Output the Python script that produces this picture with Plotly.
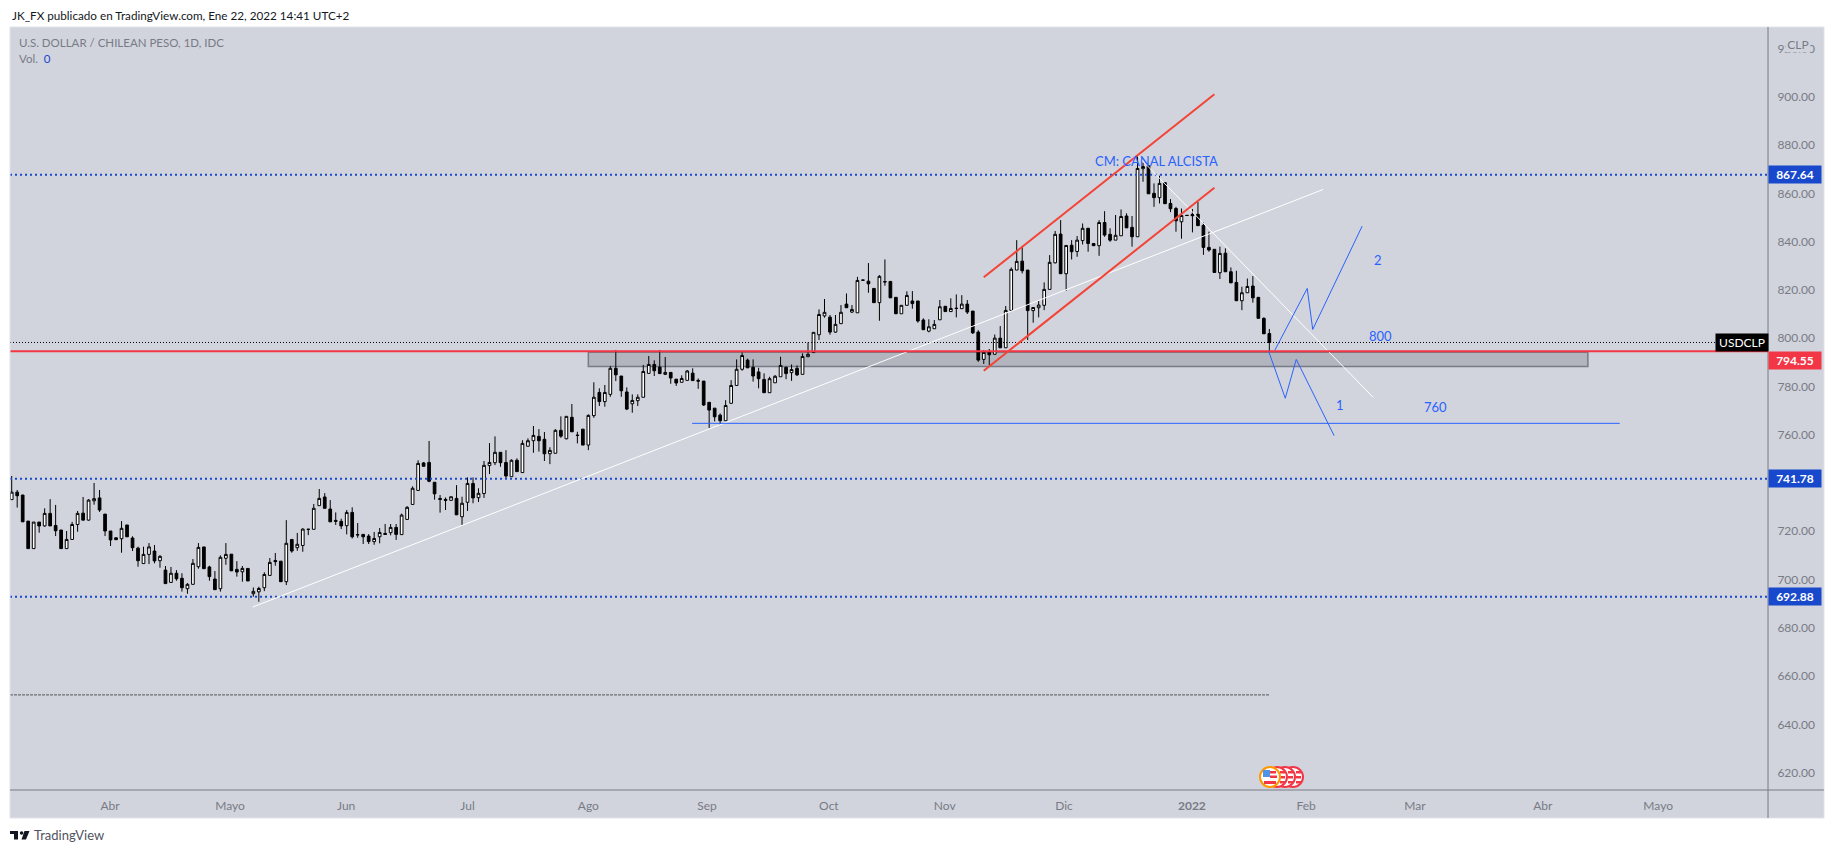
import plotly.graph_objects as go

# daily USD/CLP bars
opens = [
    733.1, 736.2, 735.0, 724.2, 712.8, 723.8, 722.2, 727.4, 722.4, 720.5,
    712.8, 716.6, 722.8, 727.5, 724.6, 732.6, 733.8, 727.1, 720.1, 717.3,
    716.9, 722.6, 717.2, 713.0, 706.6, 710.4, 711.8, 707.8, 703.9, 698.8,
    702.6, 700.5, 696.2, 698.0, 705.3, 713.5, 705.2, 700.2, 696.2, 708.8,
    710.5, 704.2, 703.2, 704.6, 694.1, 694.9, 696.6, 701.7, 707.9, 707.6,
    699.1, 716.6, 713.2, 714.1, 720.8, 720.8, 730.6, 734.2, 729.2, 724.5,
    724.1, 722.3, 727.8, 718.6, 718.7, 718.0, 715.7, 717.7, 719.1, 719.4,
    721.6, 718.6, 724.9, 731.1, 736.9, 748.3, 748.5, 740.3, 733.6, 733.2,
    732.8, 733.6, 726.0, 732.0, 739.8, 733.9, 735.6, 747.2, 748.4, 752.7,
    748.5, 742.6, 749.4, 744.3, 755.2, 757.5, 759.3, 758.1, 752.1, 752.3,
    761.8, 758.3, 767.2, 759.8, 762.3, 755.7, 767.9, 777.5, 773.7, 776.7,
    787.5, 784.3, 777.7, 772.8, 774.1, 775.5, 785.4, 789.1, 788.0, 785.0,
    785.8, 783.0, 781.7, 782.5, 785.5, 782.5, 782.2, 773.4, 771.0, 768.1,
    765.8, 773.0, 780.4, 787.1, 790.9, 787.9, 786.0, 782.9, 777.4, 781.5,
    784.0, 787.9, 785.7, 787.5, 785.0, 792.3, 794.0, 801.4, 809.2, 808.7,
    802.5, 806.0, 814.1, 810.8, 810.5, 824.1, 823.6, 820.6, 814.7, 823.4,
    823.5, 816.9, 810.1, 813.6, 815.4, 815.4, 807.5, 802.9, 803.9, 807.6,
    813.2, 811.0, 812.4, 812.2, 814.1, 811.2, 802.5, 791.2, 794.2, 793.3,
    800.0, 796.0, 811.5, 828.2, 831.9, 828.2, 811.4, 812.6, 813.6, 820.2,
    831.2, 843.1, 826.7, 838.5, 835.9, 840.4, 845.5, 839.2, 838.3, 847.9,
    843.0, 840.6, 842.4, 850.6, 845.9, 842.0, 870.2, 871.4, 860.0, 858.2,
    864.4, 855.8, 853.7, 848.2, 850.9, 851.3, 851.3, 846.7, 837.6, 836.8,
    827.1, 835.2, 827.5, 823.1, 815.5, 818.8, 821.6, 816.9, 808.2, 801.9,
]
highs = [
    742.9, 737.1, 735.0, 724.2, 723.8, 723.8, 729.5, 733.3, 730.9, 720.5,
    720.1, 723.9, 728.4, 734.2, 733.3, 740.0, 737.1, 727.1, 720.1, 717.3,
    724.2, 722.6, 717.9, 713.6, 713.6, 715.1, 714.3, 710.1, 705.6, 705.2,
    703.9, 702.6, 698.5, 708.5, 715.1, 713.5, 705.7, 703.5, 710.0, 715.1,
    710.5, 707.6, 705.6, 704.6, 696.7, 697.0, 703.0, 708.9, 711.0, 707.6,
    724.6, 716.6, 719.3, 721.2, 720.8, 731.3, 737.5, 735.8, 732.9, 727.8,
    725.2, 728.8, 729.9, 723.4, 718.7, 718.8, 719.7, 721.3, 723.0, 723.0,
    723.0, 727.3, 730.4, 738.6, 749.4, 748.7, 757.4, 740.3, 735.0, 734.0,
    734.3, 739.1, 734.3, 742.3, 742.3, 737.8, 749.1, 756.5, 759.3, 752.7,
    753.6, 749.8, 750.2, 757.7, 758.5, 763.6, 762.3, 761.1, 754.8, 762.3,
    767.6, 767.6, 772.7, 761.2, 762.3, 768.4, 781.7, 779.2, 780.6, 788.4,
    795.1, 784.3, 779.6, 776.7, 776.7, 788.9, 792.6, 790.8, 795.1, 792.2,
    785.8, 783.0, 784.6, 786.8, 787.5, 783.3, 782.2, 773.4, 771.0, 768.8,
    774.3, 782.6, 791.2, 794.1, 791.5, 791.2, 787.7, 785.4, 784.0, 784.7,
    792.3, 788.2, 789.1, 788.7, 793.7, 798.2, 802.4, 811.9, 816.2, 809.6,
    809.6, 813.7, 818.5, 813.7, 825.4, 824.1, 831.1, 820.6, 826.1, 832.6,
    823.5, 816.9, 813.6, 819.4, 819.5, 815.4, 808.2, 807.8, 807.5, 815.8,
    813.2, 816.5, 818.1, 817.8, 815.8, 811.2, 803.3, 795.1, 795.5, 801.5,
    805.0, 813.3, 829.3, 840.6, 838.2, 828.2, 812.7, 815.4, 823.1, 834.4,
    844.4, 848.9, 838.4, 840.6, 842.3, 847.5, 845.7, 839.2, 848.9, 852.6,
    845.5, 851.0, 853.3, 851.7, 850.6, 875.4, 872.7, 871.4, 864.1, 867.3,
    864.4, 857.6, 854.4, 853.7, 850.9, 853.5, 856.5, 847.9, 844.1, 836.8,
    837.9, 837.2, 829.3, 827.9, 821.3, 824.7, 825.7, 816.9, 808.6, 803.8,
]
lows = [
    733.1, 729.8, 723.9, 712.8, 712.8, 719.4, 721.9, 722.2, 718.0, 712.8,
    712.8, 716.6, 719.8, 724.6, 724.4, 731.0, 728.0, 718.0, 713.9, 716.5,
    711.1, 717.7, 711.8, 705.3, 706.6, 706.4, 706.7, 704.9, 698.3, 698.8,
    699.5, 695.0, 694.1, 698.0, 704.5, 704.5, 699.5, 695.8, 695.0, 706.1,
    703.6, 701.2, 699.1, 699.4, 692.9, 690.8, 695.2, 701.7, 705.7, 699.1,
    697.7, 711.1, 711.9, 711.5, 718.4, 720.8, 730.6, 729.5, 723.9, 722.6,
    720.9, 718.7, 717.0, 717.3, 714.7, 714.7, 714.4, 715.0, 718.7, 718.3,
    716.4, 718.6, 724.9, 731.1, 736.9, 746.9, 740.3, 733.1, 727.7, 728.8,
    732.8, 726.8, 722.6, 728.4, 731.6, 732.1, 733.8, 743.7, 747.4, 746.7,
    742.0, 742.6, 744.7, 744.3, 755.2, 752.5, 753.0, 749.1, 747.8, 752.3,
    758.7, 758.1, 761.2, 756.4, 755.7, 753.6, 767.0, 771.9, 771.6, 775.7,
    782.2, 775.7, 770.2, 769.1, 771.9, 775.5, 785.4, 784.3, 785.3, 784.7,
    781.1, 780.2, 781.7, 782.5, 782.4, 779.0, 771.9, 762.8, 765.5, 764.0,
    765.8, 773.0, 780.4, 786.5, 787.7, 782.0, 779.2, 777.4, 777.4, 781.5,
    784.0, 783.0, 782.3, 784.3, 785.0, 792.3, 794.0, 799.2, 808.5, 801.4,
    802.2, 806.0, 812.6, 810.4, 810.5, 824.0, 818.8, 814.7, 807.2, 821.7,
    816.7, 810.1, 810.1, 813.6, 812.2, 806.4, 803.5, 802.4, 803.9, 807.6,
    811.0, 811.0, 808.6, 812.2, 810.0, 801.7, 790.2, 789.3, 788.8, 793.3,
    796.0, 796.0, 811.5, 828.2, 826.8, 799.2, 806.4, 808.6, 811.6, 820.2,
    831.0, 826.7, 819.6, 832.6, 833.7, 838.8, 835.8, 838.3, 834.1, 842.0,
    839.9, 840.6, 842.4, 845.7, 837.9, 842.0, 864.8, 859.8, 854.4, 855.8,
    855.7, 852.2, 844.1, 841.2, 850.8, 843.8, 846.6, 834.5, 835.8, 827.2,
    824.5, 827.5, 822.9, 815.5, 811.6, 818.8, 814.7, 808.2, 801.8, 794.6,
]
closes = [
    736.2, 734.7, 723.9, 712.8, 723.8, 722.2, 727.4, 722.2, 720.2, 712.8,
    716.6, 722.8, 727.4, 724.6, 732.9, 733.5, 728.8, 720.1, 716.4, 716.5,
    721.2, 717.7, 713.2, 707.8, 710.4, 713.5, 707.7, 709.6, 698.3, 702.6,
    700.3, 696.6, 698.0, 706.7, 713.3, 704.5, 701.2, 695.8, 709.2, 710.4,
    703.6, 703.1, 704.6, 699.4, 695.1, 696.3, 702.1, 707.1, 707.4, 699.1,
    715.0, 711.8, 714.6, 720.9, 720.8, 729.5, 733.6, 729.5, 723.9, 724.1,
    722.2, 727.8, 717.7, 718.5, 717.7, 715.7, 717.0, 719.5, 718.7, 721.6,
    718.7, 726.7, 729.9, 737.8, 748.1, 746.9, 740.7, 735.5, 733.2, 732.8,
    734.3, 726.8, 731.6, 739.8, 733.8, 735.7, 747.3, 748.5, 752.7, 748.4,
    742.9, 749.4, 744.7, 756.4, 757.5, 759.7, 757.5, 752.1, 753.5, 761.8,
    759.4, 767.6, 761.2, 759.7, 755.7, 768.0, 775.5, 773.7, 777.5, 787.5,
    784.8, 778.2, 770.6, 774.2, 775.5, 786.2, 789.1, 786.5, 785.3, 785.8,
    783.5, 781.4, 783.3, 786.4, 782.4, 782.2, 772.3, 770.2, 767.4, 765.8,
    772.1, 780.4, 787.1, 792.8, 787.7, 784.3, 783.2, 777.4, 783.2, 784.2,
    788.7, 785.3, 787.0, 784.8, 792.4, 793.3, 802.4, 809.8, 810.7, 802.5,
    805.7, 810.7, 812.6, 811.9, 823.9, 824.0, 822.5, 814.7, 825.6, 823.3,
    816.7, 810.1, 813.6, 817.7, 814.3, 807.1, 803.5, 804.7, 805.7, 813.0,
    811.0, 812.3, 812.3, 814.1, 810.8, 802.2, 790.9, 794.1, 793.1, 800.0,
    796.0, 811.5, 828.5, 831.8, 827.9, 811.4, 812.7, 813.7, 820.2, 831.4,
    843.0, 826.7, 838.4, 835.8, 840.6, 845.5, 839.2, 838.3, 847.9, 842.7,
    840.6, 842.6, 850.4, 845.7, 842.0, 870.3, 871.1, 859.8, 858.2, 864.1,
    855.7, 853.6, 848.6, 850.8, 850.8, 850.7, 846.6, 837.6, 836.5, 827.2,
    835.1, 827.5, 822.9, 815.5, 818.8, 821.4, 816.7, 808.2, 801.8, 798.2,
]
bars = list(range(len(closes)))

month_ticks = [17.9, 39.75, 60.9, 83, 105, 126.6, 148.8, 169.9, 191.6, 214.9, 235.7, 255.5, 278.8, 299.8]
month_labels = ["Abr", "Mayo", "Jun", "Jul", "Ago", "Sep", "Oct", "Nov", "Dic", "<b>2022</b>", "Feb", "Mar", "Abr", "Mayo"]
price_ticks = list(range(620, 940, 20))

# drawings on the chart, bar number / price
blue_levels = [867.64, 741.78, 692.88]
red_level = 794.55
last_close = 798.2
dashed_level = 652.2
support_x = [123.9, 292.8]
support_y = [764.7, 764.7]
zone_x = [105, 287]
zone_y = [788.2, 794.2]
trend_x = [43.9, 238.8]
trend_y = [688.6, 861.6]
falling_x = [204.9, 247.9]
falling_y = [875.8, 775.5]
channel_top_x = [177, 219]
channel_top_y = [825.2, 901.0]
channel_bottom_x = [177, 219]
channel_bottom_y = [786.5, 862.3]
wave_down_x = [228.9, 231.9, 233.9, 240.8]
wave_down_y = [794.4, 775.1, 791.2, 759.6]
wave_up_x = [230, 235.9, 236.9, 245.9]
wave_up_y = [795.0, 820.6, 803.6, 846.4]
note_text = ["CM: CANAL ALCISTA", "800", "2", "1", "760"]
note_x = [208.4, 249.3, 248.8, 241.9, 259.3]
note_y = [873.4, 800.9, 832.4, 772.3, 771.5]

PANE = "#d1d4dc"
GREY = "#787b86"
BLUE = "#1848cc"
RED = "#f23645"
DRAW_BLUE = "#2962ff"
FONT = "Lato"
y_range = [612.8, 928.9]
x_range = [-0.31, 319.8]


# page pixels to paper fractions, the plot area is 10-1768 x 27-790
def px(x):
    return (x - 10) / 1758


def py(y):
    return (790 - y) / 763


def price_y(price):
    return 790 - (price - y_range[0]) / (y_range[1] - y_range[0]) * 763


def rect(x0, y0, x1, y1, fill, layer="above"):
    return dict(type="rect", xref="paper", yref="paper", x0=px(x0), x1=px(x1), y0=py(y0), y1=py(y1),
                fillcolor=fill, line_width=0, layer=layer)


def circle(cx, cy, r, fill, edge):
    return dict(type="circle", xref="paper", yref="paper", x0=px(cx - r), x1=px(cx + r), y0=py(cy + r), y1=py(cy - r),
                fillcolor=fill, line=dict(color=edge, width=2))


def line(x0, y0, x1, y1, color=GREY):
    return dict(type="line", xref="paper", yref="paper", x0=px(x0), x1=px(x1), y0=py(y0), y1=py(y1),
                line=dict(color=color, width=1))


def label(text, y, fill, x=1768, width=52, bold=True):
    return dict(xref="paper", yref="paper", x=px(x), y=py(y), xanchor="left", yanchor="middle", showarrow=False,
                text=f"<b>{text}</b>" if bold else text, bgcolor=fill, width=width, height=17, borderpad=0,
                font=dict(family=FONT, size=12, color="white"), align="center")


def page_text(text, x, y, size, color):
    return dict(xref="paper", yref="paper", x=px(x), y=py(y), xanchor="left", yanchor="middle", showarrow=False,
                text=text, font=dict(family=FONT, size=size, color=color))


fig = go.Figure()
fig.add_trace(go.Candlestick(
    x=bars, open=opens, high=highs, low=lows, close=closes,
    increasing=dict(line=dict(color="black", width=1), fillcolor="white"),
    decreasing=dict(line=dict(color="black", width=1), fillcolor="black"),
    whiskerwidth=0, hoverinfo="skip",
))


def add_line(x, y, color, width, dash="solid"):
    fig.add_trace(go.Scatter(x=x, y=y, mode="lines", line=dict(color=color, width=width, dash=dash), hoverinfo="skip"))


for level in blue_levels:
    add_line(x_range, [level, level], BLUE, 2, "2px,3px")
add_line(x_range, [last_close, last_close], "black", 1, "1px,2px")
add_line([x_range[0], bars[-1]], [dashed_level, dashed_level], "#333333", 0.8, "3px,1px")
add_line(trend_x, trend_y, "white", 1)
add_line(falling_x, falling_y, "white", 1)
add_line(x_range, [red_level, red_level], RED, 2)
add_line(channel_top_x, channel_top_y, "#f44336", 2)
add_line(channel_bottom_x, channel_bottom_y, "#f44336", 2)
add_line(support_x, support_y, DRAW_BLUE, 1)
add_line(wave_down_x, wave_down_y, DRAW_BLUE, 1)
add_line(wave_up_x, wave_up_y, DRAW_BLUE, 1)

shapes = [
    rect(10, 27, 1824, 818, PANE, "below"),
    dict(type="rect", xref="x", yref="y", x0=zone_x[0], x1=zone_x[1], y0=zone_y[0], y1=zone_y[1],
         fillcolor="rgba(120,123,134,0.35)", line=dict(color=GREY, width=1.5), layer="below"),
    line(10, 27, 1824, 27, "#e0e3eb"),
    line(10, 27, 10, 818, "#e0e3eb"),
    line(1824, 27, 1824, 818, "#e0e3eb"),
    line(10, 818, 1824, 818, "#e0e3eb"),
    line(10, 790, 1824, 790),
    line(1768, 27, 1768, 818),
]
# calendar event flags, back to front
for cx in [1293, 1285, 1277]:
    shapes.append(circle(cx, 777, 10, "white", RED))
    shapes.append(rect(cx + 3, 771, cx + 8, 773.5, RED))
    shapes.append(rect(cx + 3, 776, cx + 8, 778.5, RED))
    shapes.append(rect(cx + 3, 781, cx + 8, 783.5, RED))
shapes += [
    circle(1270, 777, 10, "white", "#ff9800"),
    rect(1263, 770, 1270, 777, "#4d94e8"),
    rect(1270, 771, 1276, 773.5, RED),
    rect(1270, 775.5, 1277, 778, RED),
    rect(1264, 781, 1276, 784, RED),
]
# TradingView mark
shapes += [
    rect(10, 831, 18, 834, "#131722"),
    rect(14, 834, 18, 839.5, "#131722"),
    dict(type="circle", xref="paper", yref="paper", x0=px(19.8), x1=px(23.4), y0=py(834.8), y1=py(831.2),
         fillcolor="#131722", line_width=0),
    dict(type="path", xref="paper", yref="paper", fillcolor="#131722", line_width=0,
         path=f"M {px(24.5)} {py(831)} L {px(29.5)} {py(831)} L {px(26)} {py(839.5)} L {px(21.5)} {py(839.5)} Z"),
]

annotations = [
    page_text("JK_FX publicado en TradingView.com, Ene 22, 2022 14:41 UTC+2", 10, 15, 11.7, "#131722"),
    page_text("U.S. DOLLAR / CHILEAN PESO, 1D, IDC", 17, 42, 11.5, GREY),
    page_text(f"Vol.  <span style='color:{BLUE}'>0</span>", 17, 59, 11.5, GREY),
    page_text("TradingView", 32, 835, 13, "#50535e"),
    dict(xref="paper", yref="paper", x=px(1785), y=py(44), xanchor="left", yanchor="middle", showarrow=False,
         text="CLP", bgcolor=PANE, width=24, height=16, borderpad=0, font=dict(family=FONT, size=12, color=GREY)),
    label("USDCLP", price_y(last_close), "black", x=1715, width=52, bold=False),
]
for level in blue_levels:
    annotations.append(label(f"{level:.2f}", price_y(level), BLUE))
annotations.append(label(f"{red_level:.2f}", price_y(red_level) + 9, RED))
for text, nx, ny in zip(note_text, note_x, note_y):
    annotations.append(dict(xref="x", yref="y", x=nx, y=ny, text=text, showarrow=False,
                            font=dict(family=FONT, size=13, color=DRAW_BLUE)))

fig.update_layout(
    width=1818,
    height=837,
    margin=dict(l=2, r=58, t=19, b=55),
    paper_bgcolor="white",
    plot_bgcolor=PANE,
    showlegend=False,
    shapes=shapes,
    annotations=annotations,
    font=dict(family=FONT, size=12, color=GREY),
    xaxis=dict(
        range=x_range, rangeslider=dict(visible=False), showgrid=False, zeroline=False, showline=False,
        tickvals=month_ticks, ticktext=month_labels, ticks="outside", ticklen=5, tickcolor=PANE,
    ),
    yaxis=dict(
        range=y_range, side="right", showgrid=False, zeroline=False, showline=False,
        tickvals=price_ticks, ticktext=[f"{v:.2f}" for v in price_ticks], ticks="outside", ticklen=6, tickcolor=PANE,
    ),
)

fig.write_html("out.html", config=dict(displayModeBar=False))
